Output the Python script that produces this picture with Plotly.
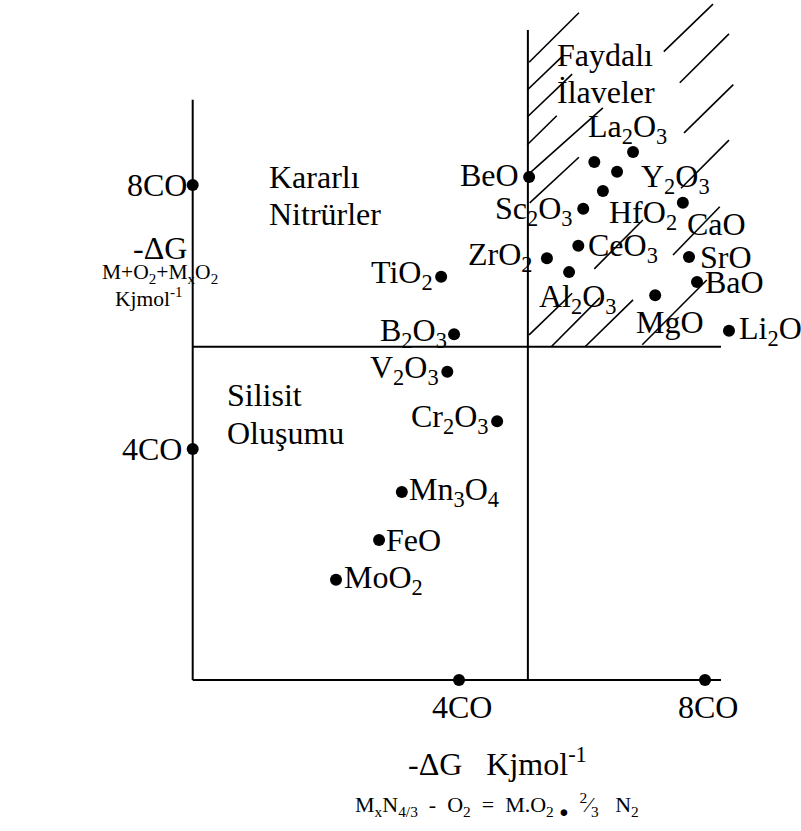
import plotly.graph_objects as go

# ---- data (units of CO on both axes) ----
compounds = ["BeO", "", "La<sub>2</sub>O<sub>3</sub>", "Y<sub>2</sub>O<sub>3</sub>", "HfO<sub>2</sub>",
             "Sc<sub>2</sub>O<sub>3</sub>", "CaO", "CeO<sub>3</sub>", "ZrO<sub>2</sub>", "Al<sub>2</sub>O<sub>3</sub>",
             "SrO", "BaO", "MgO", "Li<sub>2</sub>O", "TiO<sub>2</sub>", "B<sub>2</sub>O<sub>3</sub>",
             "V<sub>2</sub>O<sub>3</sub>", "Cr<sub>2</sub>O<sub>3</sub>", "Mn<sub>3</sub>O<sub>4</sub>", "FeO",
             "MoO<sub>2</sub>"]
x_vals = [5.14, 6.20, 6.83, 6.57, 6.34, 6.02, 7.64, 5.94, 5.43, 5.79,
          7.74, 7.87, 7.19, 8.39, 3.71, 3.92, 3.81, 4.62, 3.07, 2.70, 2.00]
y_vals = [8.12, 8.35, 8.50, 8.20, 7.91, 7.64, 7.73, 7.08, 6.89, 6.68,
          6.91, 6.53, 6.33, 5.79, 6.61, 5.74, 5.17, 4.42, 3.35, 2.62, 2.02]

tick_labels = ["4CO", "8CO"]
tick_vals = [4, 8]

# region captions (one line each) and their anchor points
captions = ["Kararlı", "Nitrürler", "Silisit", "Oluşumu", "Faydalı", "İlaveler"]
caption_x = [0.88, 0.88, 0.19, 0.19, 5.56, 5.56]
caption_y = [8.12, 7.56, 4.82, 4.24, 9.97, 9.41]

# label placement (style): anchor, xshift, yshift in px
label_style = [("right", -8, 2), None, ("center", -6, 24), ("left", 22, -7), ("left", 4, -24),
               ("right", -8, -2), ("left", 2, -21), ("left", 8, -2), ("right", -12, 2), ("center", 9, -26),
               ("left", 9, 0), ("left", 6, 0), ("center", 15, -27), ("left", 8, 0), ("right", -6, 2),
               ("right", -5, 2), ("right", -6, 2), ("right", -6, 3), ("left", 5, 0), ("left", 5, 0),
               ("left", 6, 0)]
ytick_shift = [-9, -4]

# frame geometry
X0, Y0 = -0.33, 0.5
XS, YS = 5.12, 5.55
XE = 8.26
LEFT_TOP, MID_TOP = 9.29, 10.35

# hand-drawn hatch segments (decoration) in axis units
hatch = [((5.14, 9.86), (5.95, 10.61)), ((5.11, 9.44), (5.68, 9.95)), ((5.11, 9.03), (5.84, 9.68)),
         ((5.11, 8.61), (5.59, 9.05)), ((5.15, 8.18), (6.34, 9.17)), ((5.15, 7.73), (5.95, 8.42)),
         ((7.33, 10.02), (8.13, 10.74)), ((7.59, 9.55), (8.39, 10.29)), ((7.66, 8.79), (8.46, 9.52)),
         ((7.61, 7.95), (8.39, 8.68)), ((6.20, 6.73), (6.99, 7.47)), ((7.48, 6.94), (8.24, 7.67)),
         ((5.14, 5.73), (5.84, 6.36)), ((5.50, 5.55), (6.29, 6.29)), ((6.05, 5.55), (6.83, 6.26)),
         ((6.98, 5.58), (8.03, 6.56))]

FONT = "Liberation Serif"
BIG = 32
SMALL = 21.5


def f(size):
    return dict(family=FONT, size=size, color="black")


fig = go.Figure()

shapes = []
line_style = dict(color="black", width=2)
shapes.append(dict(type="line", x0=X0, y0=Y0, x1=X0, y1=LEFT_TOP, line=line_style))
shapes.append(dict(type="line", x0=X0, y0=Y0, x1=XE, y1=Y0, line=line_style))
shapes.append(dict(type="line", x0=XS, y0=Y0, x1=XS, y1=MID_TOP, line=line_style))
shapes.append(dict(type="line", x0=X0, y0=YS, x1=XE, y1=YS, line=line_style))
for (a, b) in hatch:
    shapes.append(dict(type="line", x0=a[0], y0=a[1], x1=b[0], y1=b[1],
                       line=dict(color="black", width=1.6)))

# compound points
fig.add_trace(go.Scatter(x=x_vals, y=y_vals, mode="markers",
                         marker=dict(color="black", size=12), hoverinfo="skip"))
# axis reference points
fig.add_trace(go.Scatter(x=tick_vals, y=[Y0, Y0], mode="markers",
                         marker=dict(color="black", size=12), hoverinfo="skip"))
fig.add_trace(go.Scatter(x=[X0, X0], y=tick_vals, mode="markers",
                         marker=dict(color="black", size=12), hoverinfo="skip"))

ann = []
for name, x, y, st in zip(compounds, x_vals, y_vals, label_style):
    if st is None or not name:
        continue
    anchor, dx, dy = st
    ann.append(dict(x=x, y=y, text=name, showarrow=False, xanchor=anchor, yanchor="middle",
                    xshift=dx, yshift=dy, font=f(BIG)))
for lab, v, sh in zip(tick_labels, tick_vals, ytick_shift):
    ann.append(dict(x=v, y=Y0, text=lab, showarrow=False, xanchor="center", yanchor="middle",
                    xshift=3, yshift=-27, font=f(BIG)))
    ann.append(dict(x=X0, y=v, text=lab, showarrow=False, xanchor="right", yanchor="middle",
                    xshift=sh, yshift=0, font=f(BIG)))

for txt, cx, cy in zip(captions, caption_x, caption_y):
    ann.append(dict(x=cx, y=cy, text=txt, showarrow=False, xanchor="left", yanchor="middle",
                    font=f(BIG)))

# axis titles
ann.append(dict(x=-0.86, y=7.05, text="-ΔG", showarrow=False, xanchor="center", yanchor="middle",
                font=f(BIG)))
ann.append(dict(x=-0.86, y=6.66, text="M+O<sub>2</sub>+M<sub>x</sub>O<sub>2</sub>", showarrow=False,
                xanchor="center", yanchor="middle", font=f(SMALL)))
ann.append(dict(x=-1.04, y=6.30, text="Kjmol<sup>-1</sup>", showarrow=False, xanchor="center",
                yanchor="middle", font=f(SMALL)))
ann.append(dict(x=4.62, y=-0.74, text="-ΔG   Kjmol<sup>-1</sup>", showarrow=False, xanchor="center",
                yanchor="middle", font=f(BIG)))
ann.append(dict(x=4.62, y=-1.39,
                text="M<sub>x</sub>N<sub>4/3</sub>  -  O<sub>2</sub>  =  M.O<sub>2</sub> <sub>●</sub>  <sup>2</sup>⁄<sub>3</sub>   N<sub>2</sub>",
                showarrow=False, xanchor="center", yanchor="middle", font=f(22)))

fig.update_layout(
    width=801, height=831, autosize=False,
    margin=dict(l=0, r=0, t=0, b=0),
    paper_bgcolor="white", plot_bgcolor="white",
    showlegend=False,
    font=f(BIG),
    xaxis=dict(range=[-3.4634, 9.5610], visible=False, fixedrange=True),
    yaxis=dict(range=[-1.7879, 10.803], visible=False, fixedrange=True),
    shapes=shapes, annotations=ann,
)

fig.write_html("out.html")
